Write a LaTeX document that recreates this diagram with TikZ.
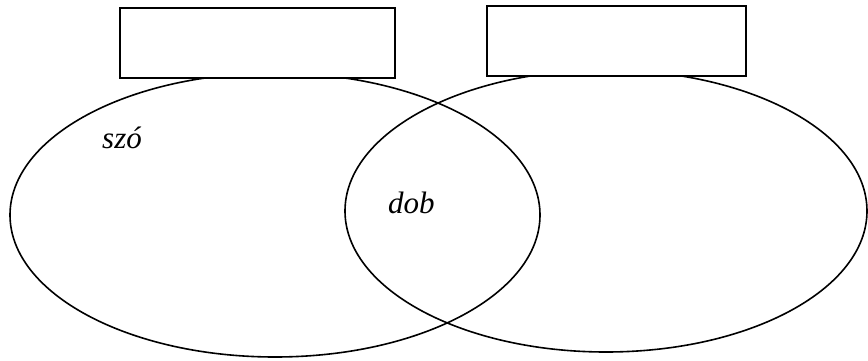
\documentclass[tikz,border=0pt]{standalone}
\usepackage{fontspec}
\setmainfont{Liberation Serif}
\tikzset{
  set/.style={draw=black, line width=1.6pt},
  label box/.style={draw=black, fill=white, line width=1.6pt},
  word/.style={font=\fontsize{31}{34}\selectfont\itshape, inner sep=0pt, anchor=base west}
}
\begin{document}
\begin{tikzpicture}[x=1pt,y=-1pt]
\useasboundingbox (0,0) rectangle (868,361);
\draw[set] (275,215) ellipse [x radius=265, y radius=142];
\draw[set] (606,211) ellipse [x radius=261, y radius=141];
\node[label box, minimum width=275pt, minimum height=70pt, inner sep=0pt] (boxA) at (257.5,43) {};
\node[label box, minimum width=259pt, minimum height=70pt, inner sep=0pt] (boxB) at (616.5,41) {};
\node[word] (szo) at (102,148) {szó};
\node[word] (dob) at (388,213) {dob};
\end{tikzpicture}
\end{document}
